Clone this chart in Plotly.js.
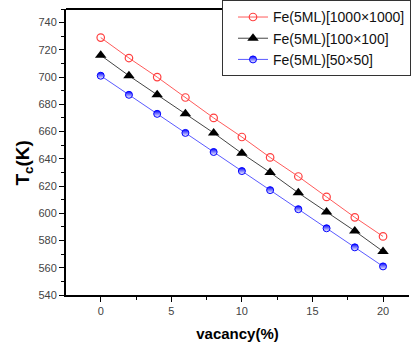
<!DOCTYPE html>
<html><head><meta charset="utf-8">
<script src="https://cdn.plot.ly/plotly-3.0.1.min.js"></script>
<style>html,body{margin:0;padding:0;overflow:hidden;background:#fff}</style>
</head><body>
<div id="chart" style="width:411px;height:343px"></div>
<script>
const vacancy = [0, 2, 4, 6, 8, 10, 12, 14, 16, 18, 20];
const tc1000 = [729, 714, 700, 685, 670, 656, 641, 627, 612, 597, 583];
const tc100 = [716, 701, 687, 673, 659, 644, 630, 615, 601, 587, 572];
const tc50 = [701, 687, 673, 659, 645, 631, 617, 603, 589, 575, 561];
const names = ['Fe(5ML)[1000×1000]', 'Fe(5ML)[100×100]', 'Fe(5ML)[50×50]'];
const yTitle = 'T<sub>c</sub>(K)';
const xTitle = 'vacancy(%)';

const traces = [
  {x: vacancy, y: tc1000, name: names[0], mode: 'lines+markers',
   line: {color: '#ff5a5a', width: 1},
   marker: {symbol: 'circle-open', size: 7.5, color: '#ff4040', line: {width: 1.2}}},
  {x: vacancy, y: tc100, name: names[1], mode: 'lines+markers',
   line: {color: '#444', width: 1},
   marker: {symbol: 'triangle-up', size: 10, color: '#000'}},
  {x: vacancy, y: tc50, name: names[2], mode: 'lines+markers',
   line: {color: '#5a5aff', width: 1},
   marker: {symbol: 'circle', size: 7, color: '#0000ff', line: {color: '#0000ff', width: 1},
            gradient: {type: 'vertical', color: '#ffffff'}}}
];

const layout = {
  width: 411, height: 343,
  margin: {l: 66, r: 0, t: 9, b: 48},
  paper_bgcolor: '#fff', plot_bgcolor: '#fff',
  font: {family: 'Arial, Liberation Sans, sans-serif', color: '#444'},
  showlegend: true,
  legend: {x: 0.455, y: 1.03, xanchor: 'left', yanchor: 'top', indentation: 10,
           bordercolor: '#333', borderwidth: 1, bgcolor: '#fff',
           font: {size: 14, color: '#111'}, tracegroupgap: 0},
  xaxis: {range: [-2.46, 21.84], dtick: 5, tick0: 0, ticks: 'outside', ticklen: 5,
          tickwidth: 1, tickcolor: '#000', showline: true, linecolor: '#000', linewidth: 2,
          showgrid: false, zeroline: false, tickfont: {size: 11, color: '#444'},
          minor: {dtick: 2.5, ticks: 'outside', ticklen: 3, tickcolor: '#000', showgrid: false},
          title: {text: xTitle, font: {size: 15, color: '#000', weight: 'bold'}, standoff: 12}},
  yaxis: {range: [540, 750], dtick: 20, tick0: 540, ticks: 'outside', ticklen: 5,
          tickwidth: 1, tickcolor: '#000', showline: true, linecolor: '#000', linewidth: 2,
          showgrid: false, zeroline: false, tickfont: {size: 11, color: '#444'},
          minor: {dtick: 10, ticks: 'outside', ticklen: 3, tickcolor: '#000', showgrid: false}},
  annotations: [{text: yTitle, xref: 'paper', yref: 'paper', x: -0.122, y: 0.46,
                 xanchor: 'center', yanchor: 'middle', textangle: -90, showarrow: false,
                 font: {size: 19, color: '#000', weight: 'bold'}}],
  shapes: [{type: 'line', xref: 'paper', yref: 'paper', x0: 0, x1: 1, y0: 1, y1: 1,
            line: {color: '#000', width: 2}, layer: 'below'}]
};

Plotly.newPlot('chart', traces, layout, {displayModeBar: false, staticPlot: true});
</script>
</body></html>
